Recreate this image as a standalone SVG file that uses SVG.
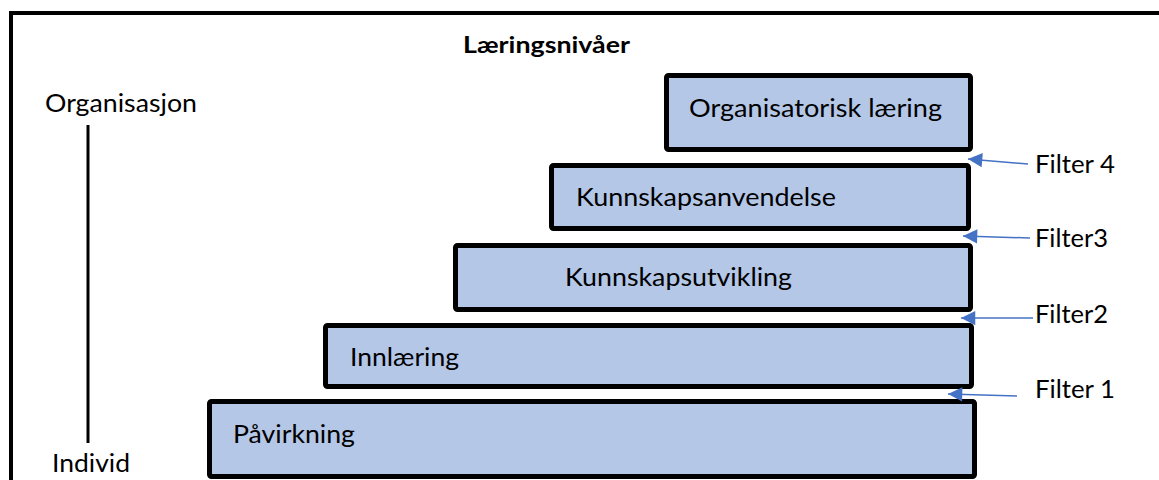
<svg xmlns="http://www.w3.org/2000/svg" width="1159" height="480" viewBox="0 0 1159 480">
  <style>
    .box { fill: #B4C7E7; stroke: #000; stroke-width: 5; }
    .lbl { font-family: Lato, "Open Sans", "Liberation Sans", sans-serif; font-size: 25px; fill: #000; }
    .title { font-family: Lato, "Open Sans", "Liberation Sans", sans-serif; font-size: 23px; font-weight: bold; fill: #000; }
    .arrow { stroke: #4472C4; stroke-width: 1.5; fill: none; marker-end: url(#ah); }
  </style>
  <defs>
    <marker id="ah" viewBox="0 0 10 10" refX="10" refY="5" markerWidth="10" markerHeight="9.5" markerUnits="userSpaceOnUse" orient="auto" overflow="visible">
      <path d="M0,0 L10,5 L0,10 Z" fill="#4472C4" transform="scale(1.5)" transform-origin="10 5"/>
    </marker>
  </defs>
  <rect x="0" y="0" width="1159" height="480" fill="#fff"/>
  <path d="M11,480 V13 H1159" fill="none" stroke="#000" stroke-width="4"/>
  <text class="title" x="463" y="53" textLength="167" lengthAdjust="spacingAndGlyphs">Læringsnivåer</text>

  <g id="axis">
    <text class="lbl" x="45" y="112" textLength="152" lengthAdjust="spacingAndGlyphs">Organisasjon</text>
    <line x1="88" y1="125" x2="88" y2="443" stroke="#000" stroke-width="3"/>
    <text class="lbl" x="52" y="472" textLength="78" lengthAdjust="spacingAndGlyphs">Individ</text>
  </g>

  <g id="node-organisatorisk">
    <rect class="box" x="666.5" y="75.5" width="304" height="74" rx="2"/>
    <text class="lbl" x="689" y="117" textLength="253" lengthAdjust="spacingAndGlyphs">Organisatorisk læring</text>
  </g>
  <g id="node-anvendelse">
    <rect class="box" x="551.5" y="165.5" width="417" height="63" rx="2"/>
    <text class="lbl" x="576" y="206" textLength="260" lengthAdjust="spacingAndGlyphs">Kunnskapsanvendelse</text>
  </g>
  <g id="node-utvikling">
    <rect class="box" x="455.5" y="245.5" width="515" height="64" rx="2"/>
    <text class="lbl" x="565" y="286" textLength="227" lengthAdjust="spacingAndGlyphs">Kunnskapsutvikling</text>
  </g>
  <g id="node-innlaering">
    <rect class="box" x="325.5" y="325.5" width="646" height="61" rx="2"/>
    <text class="lbl" x="350" y="366" textLength="109" lengthAdjust="spacingAndGlyphs">Innlæring</text>
  </g>
  <g id="node-pavirkning">
    <rect class="box" x="209.5" y="401.5" width="765" height="75" rx="2"/>
    <text class="lbl" x="233" y="443" textLength="122" lengthAdjust="spacingAndGlyphs">Påvirkning</text>
  </g>

  <g id="filters">
    <text class="lbl" x="1035" y="173" textLength="80" lengthAdjust="spacingAndGlyphs">Filter 4</text>
    <text class="lbl" x="1035" y="247" textLength="73" lengthAdjust="spacingAndGlyphs">Filter3</text>
    <text class="lbl" x="1035" y="323" textLength="73" lengthAdjust="spacingAndGlyphs">Filter2</text>
    <text class="lbl" x="1035" y="398" textLength="80" lengthAdjust="spacingAndGlyphs">Filter 1</text>
  </g>

  <g id="connectors">
    <line class="arrow" x1="1028" y1="164" x2="968" y2="159"/>
    <line class="arrow" x1="1030" y1="238" x2="963" y2="236"/>
    <line class="arrow" x1="1033" y1="318" x2="961" y2="318"/>
    <line class="arrow" x1="1017" y1="396" x2="948" y2="394"/>
  </g>
</svg>
